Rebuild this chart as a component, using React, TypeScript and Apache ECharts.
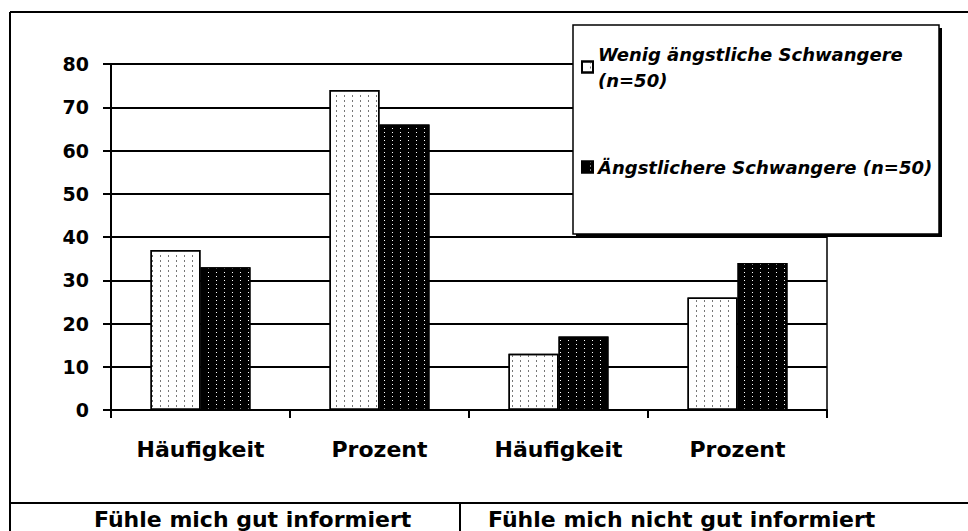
import React, { useEffect, useRef } from "react";
import * as echarts from "echarts";

const categories = ["Häufigkeit", "Prozent", "Häufigkeit", "Prozent"];
const seriesNames = ["Wenig ängstliche Schwangere (n=50)", "Ängstlichere Schwangere (n=50)"];
const lowAnxiety = [37, 74, 13, 26];
const highAnxiety = [33, 66, 17, 34];
const groupLabels = ["Fühle mich gut informiert", "Fühle mich nicht gut informiert"];

const FONT = "'DejaVu Sans', Arial, sans-serif";

export default function App() {
  const ref = useRef<HTMLDivElement>(null);
  useEffect(() => {
    if (!ref.current) return;
    const chart = echarts.init(ref.current, undefined, { renderer: "svg" });
    const option: any = {
      animation: false,
      backgroundColor: "#fff",
      grid: {
        left: 111,
        right: 141,
        top: 64,
        bottom: 121,
        show: true,
        borderColor: "#000",
        borderWidth: 1.5,
        backgroundColor: "transparent",
      },
      xAxis: {
        type: "category",
        data: categories,
        axisLine: { show: true, lineStyle: { color: "#000", width: 2 } },
        axisTick: { show: true, length: 8, lineStyle: { color: "#000", width: 2 } },
        axisLabel: {
          margin: 28,
          color: "#000",
          fontFamily: FONT,
          fontWeight: "bold",
          fontSize: 22,
        },
      },
      yAxis: {
        type: "value",
        min: 0,
        max: 80,
        interval: 10,
        axisLine: { show: true, lineStyle: { color: "#000", width: 2 } },
        axisTick: { show: true, length: 8, lineStyle: { color: "#000", width: 2 } },
        splitLine: { show: true, lineStyle: { color: "#000", width: 2 } },
        axisLabel: {
          margin: 22,
          color: "#000",
          fontFamily: FONT,
          fontWeight: "bold",
          fontSize: 19,
        },
      },
      legend: {
        show: true,
        orient: "vertical",
        left: 581,
        top: 28,
        z: 10,
        icon: "rect",
        itemWidth: 11,
        itemHeight: 11,
        itemGap: 48,
        padding: 0,
        formatter: (name: string) =>
          name === seriesNames[0] ? "Wenig ängstliche Schwangere\n(n=50)" : name,
        textStyle: {
          fontFamily: FONT,
          fontWeight: "bold",
          fontStyle: "italic",
          fontSize: 18,
          lineHeight: 26,
          color: "#000",
        },
        data: [
          { name: seriesNames[0], textStyle: { padding: [26, 0, 0, 0] } },
          { name: seriesNames[1] },
        ],
      },
      graphic: [
        { type: "line", z: 20, shape: { x1: 10, y1: 12, x2: 968, y2: 12 }, style: { stroke: "#000", lineWidth: 2 } },
        { type: "line", z: 20, shape: { x1: 10, y1: 12, x2: 10, y2: 531 }, style: { stroke: "#000", lineWidth: 2 } },
        { type: "line", z: 20, shape: { x1: 10, y1: 503, x2: 968, y2: 503 }, style: { stroke: "#000", lineWidth: 2 } },
        { type: "line", z: 20, shape: { x1: 460, y1: 503, x2: 460, y2: 531 }, style: { stroke: "#000", lineWidth: 2 } },
        { type: "rect", z: 5, shape: { x: 576, y: 28, width: 366, height: 209 }, style: { fill: "#000" } },
        { type: "rect", z: 6, shape: { x: 573, y: 25, width: 366, height: 209 }, style: { fill: "#fff", stroke: "#000", lineWidth: 1.5 } },
        {
          type: "text", z: 20, left: 94, top: 508,
          style: { text: groupLabels[0], font: `bold 22px ${FONT}`, fill: "#000" },
        },
        {
          type: "text", z: 20, left: 488, top: 508,
          style: { text: groupLabels[1], font: `bold 22px ${FONT}`, fill: "#000" },
        },
      ],
      series: [
        {
          name: seriesNames[0],
          type: "bar",
          data: lowAnxiety,
          barWidth: 50,
          barGap: "0%",
          itemStyle: {
            color: "#fff",
            borderColor: "#000",
            borderWidth: 1.5,
            decal: {
              symbol: "rect",
              symbolSize: 1,
              color: "#777",
              dashArrayX: [1, 7],
              dashArrayY: [2, 3],
              rotation: 0,
            },
          },
        },
        {
          name: seriesNames[1],
          type: "bar",
          data: highAnxiety,
          barWidth: 50,
          barGap: "0%",
          itemStyle: {
            color: "#000",
            borderColor: "#000",
            borderWidth: 1.5,
            decal: {
              symbol: "rect",
              symbolSize: 1,
              color: "#fff",
              dashArrayX: [1, 7],
              dashArrayY: [1, 3],
              rotation: 0,
            },
          },
        },
      ],
    };
    chart.setOption(option);
    return () => chart.dispose();
  }, []);
  return (
    <div
      ref={ref}
      style={{ position: "fixed", left: 0, top: 0, width: 968, height: 531, background: "#fff" }}
    />
  );
}
